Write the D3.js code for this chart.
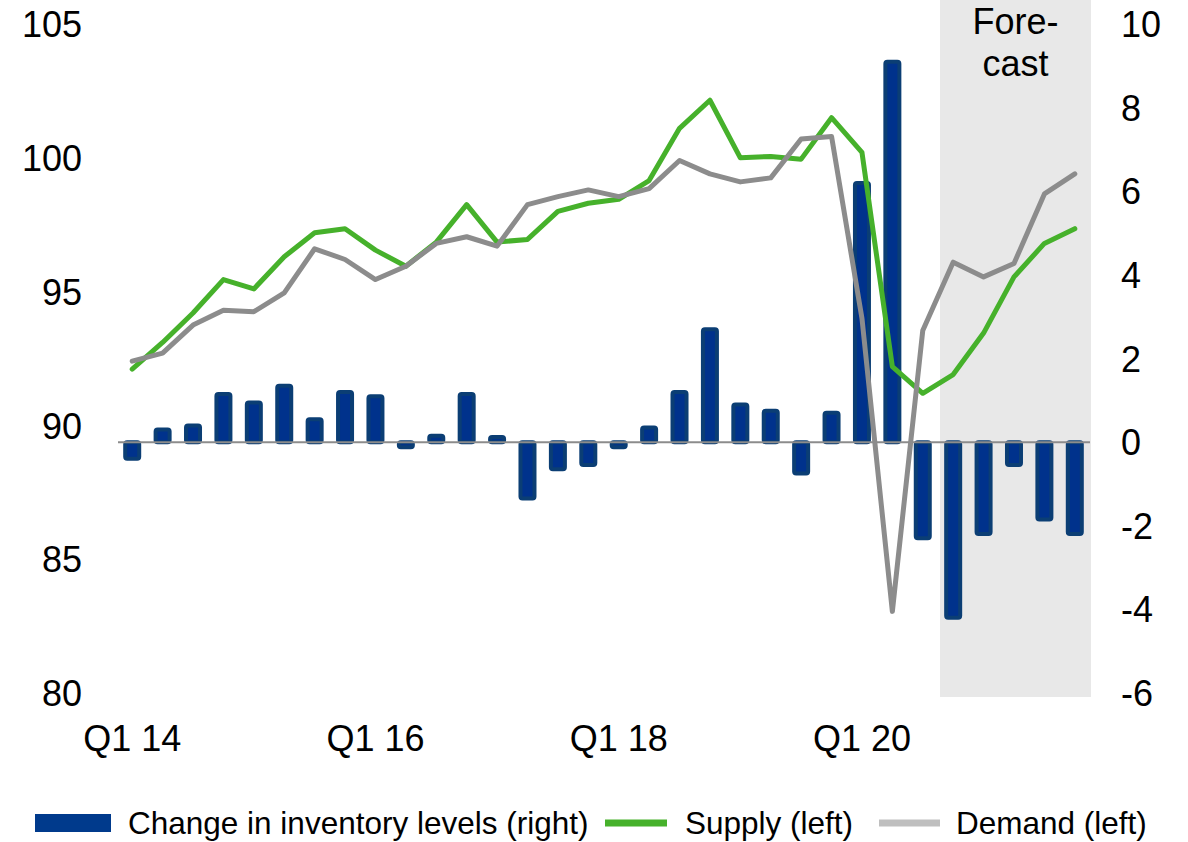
<!DOCTYPE html>
<html>
<head>
<meta charset="utf-8">
<script src="https://cdn.jsdelivr.net/npm/d3@7"></script>
<style>
  html, body { margin: 0; padding: 0; background: #fff; }
  svg { display: block; font-family: "Liberation Sans", Arial, sans-serif; }
</style>
</head>
<body>
<svg id="chart" width="1188" height="842"></svg>
<script>
// quarters Q1 14 .. Q4 21
const quarters = [
  "Q1 14", "Q2 14", "Q3 14", "Q4 14", "Q1 15", "Q2 15", "Q3 15", "Q4 15",
  "Q1 16", "Q2 16", "Q3 16", "Q4 16", "Q1 17", "Q2 17", "Q3 17", "Q4 17",
  "Q1 18", "Q2 18", "Q3 18", "Q4 18", "Q1 19", "Q2 19", "Q3 19", "Q4 19",
  "Q1 20", "Q2 20", "Q3 20", "Q4 20", "Q1 21", "Q2 21", "Q3 21", "Q4 21"
];
const xTickLabels = ["Q1 14", "Q1 16", "Q1 18", "Q1 20"];
const forecastStart = "Q4 20";

// change in inventory levels (right axis)
const inventory = [
  -0.4, 0.3, 0.4, 1.15, 0.95, 1.35, 0.55, 1.2,
  1.1, -0.12, 0.15, 1.15, 0.12, -1.35, -0.65, -0.55,
  -0.12, 0.35, 1.2, 2.7, 0.9, 0.75, -0.75, 0.7,
  6.2, 9.1, -2.3, -4.2, -2.2, -0.55, -1.85, -2.2
];

// supply (left axis)
const supply = [
  92.1, 93.1, 94.2, 95.45, 95.1, 96.3, 97.2, 97.35,
  96.55, 95.95, 96.85, 98.25, 96.85, 96.95, 98.0, 98.3,
  98.45, 99.15, 101.1, 102.15, 100.0, 100.05, 99.95, 101.5,
  100.2, 92.2, 91.2, 91.9, 93.45, 95.55, 96.8, 97.35
];

// demand (left axis)
const demand = [
  92.4, 92.7, 93.75, 94.3, 94.25, 94.95, 96.6, 96.2,
  95.45, 95.95, 96.8, 97.05, 96.7, 98.25, 98.55, 98.8,
  98.55, 98.85, 99.9, 99.4, 99.1, 99.25, 100.7, 100.8,
  94.0, 83.05, 93.55, 96.1, 95.55, 96.05, 98.65, 99.4
];

const leftTicks = [80, 85, 90, 95, 100, 105];
const rightTicks = [-6, -4, -2, 0, 2, 4, 6, 8, 10];

const legendItems = [
  { label: "Change in inventory levels (right)", type: "bar", color: "#003a8c" },
  { label: "Supply (left)", type: "line", color: "#46b12b" },
  { label: "Demand (left)", type: "line", color: "#bfbfbf" }
];

const svg = d3.select("#chart");
const plotTop = 24, plotBottom = 693, plotLeft = 117, plotRight = 1090;
const fontSize = 36;

const x = d3.scaleBand().domain(quarters).range([plotLeft, plotRight]).padding(0);
const cx = q => x(q) + x.bandwidth() / 2;
const yL = d3.scaleLinear().domain([80, 105]).range([plotBottom, plotTop]);
const yR = d3.scaleLinear().domain([-6, 10]).range([plotBottom, plotTop]);

// forecast shade
const fx = x(forecastStart) + 2;
const shadeMid = (fx + plotRight + 1) / 2;
svg.append("rect")
  .attr("x", fx)
  .attr("y", 0)
  .attr("width", plotRight + 1 - fx)
  .attr("height", plotBottom + 4)
  .attr("fill", "#e8e8e8");

svg.append("text")
  .attr("x", shadeMid)
  .attr("y", 34)
  .attr("text-anchor", "middle")
  .style("font-size", fontSize + "px")
  .text("Fore-");
svg.append("text")
  .attr("x", shadeMid)
  .attr("y", 76)
  .attr("text-anchor", "middle")
  .style("font-size", fontSize + "px")
  .text("cast");

// bars
const barW = 14;
svg.selectAll("rect.bar")
  .data(inventory)
  .enter()
  .append("rect")
  .attr("class", "bar")
  .attr("x", (d, i) => cx(quarters[i]) - barW / 2)
  .attr("y", d => Math.min(yR(d), yR(0)))
  .attr("width", barW)
  .attr("height", d => Math.abs(yR(d) - yR(0)))
  .attr("rx", 2)
  .attr("fill", "#00328c")
  .attr("stroke", "#0b3e74")
  .attr("stroke-width", 4);

// zero line
svg.append("line")
  .attr("x1", plotLeft + 1)
  .attr("x2", plotRight)
  .attr("y1", yR(0))
  .attr("y2", yR(0))
  .attr("stroke", "#8c8c8c")
  .attr("stroke-width", 2);

// lines
const line = d3.line()
  .x((d, i) => cx(quarters[i]))
  .y(d => yL(d));

svg.append("path")
  .datum(supply)
  .attr("d", line)
  .attr("fill", "none")
  .attr("stroke", "#46b12b")
  .attr("stroke-width", 5)
  .attr("stroke-linejoin", "round")
  .attr("stroke-linecap", "round");

svg.append("path")
  .datum(demand)
  .attr("d", line)
  .attr("fill", "none")
  .attr("stroke", "#8c8c8c")
  .attr("stroke-width", 5)
  .attr("stroke-linejoin", "round")
  .attr("stroke-linecap", "round");

// axes
const leftAxis = svg.append("g")
  .attr("transform", "translate(82,0)")
  .call(d3.axisLeft(yL).tickValues(leftTicks).tickSize(0).tickPadding(0)
    .tickFormat(d => String(d)));

const rightAxis = svg.append("g")
  .attr("transform", "translate(1121,0)")
  .call(d3.axisRight(yR).tickValues(rightTicks).tickSize(0).tickPadding(0)
    .tickFormat(d => String(d)));

const bottomAxis = svg.append("g")
  .attr("transform", `translate(0,${plotBottom})`)
  .call(d3.axisBottom(x).tickValues(xTickLabels).tickSize(0).tickPadding(32));

[leftAxis, rightAxis, bottomAxis].forEach(g => {
  g.select(".domain").remove();
  g.selectAll("text")
    .style("font-size", fontSize + "px")
    .style("font-family", '"Liberation Sans", Arial, sans-serif')
    .attr("fill", "#000");
});
leftAxis.selectAll("text").attr("dy", "0.35em");
rightAxis.selectAll("text").attr("dy", "0.35em");

// legend
const legendY = 823;
const legendPos = [
  { sx: 35, sw: 76, tx: 128 },
  { sx: 605, sw: 62, tx: 685 },
  { sx: 879, sw: 61, tx: 956 }
];
const legend = svg.append("g").attr("class", "legend");
legendItems.forEach((item, i) => {
  const p = legendPos[i];
  if (item.type === "bar") {
    legend.append("rect")
      .attr("x", p.sx).attr("y", legendY - 9)
      .attr("width", p.sw).attr("height", 18)
      .attr("fill", item.color);
  } else {
    legend.append("rect")
      .attr("x", p.sx).attr("y", legendY - 3.5)
      .attr("width", p.sw).attr("height", 7)
      .attr("fill", item.color);
  }
  legend.append("text")
    .attr("x", p.tx)
    .attr("y", legendY + 11)
    .style("font-size", "31.5px")
    .text(item.label);
});
</script>
</body>
</html>
